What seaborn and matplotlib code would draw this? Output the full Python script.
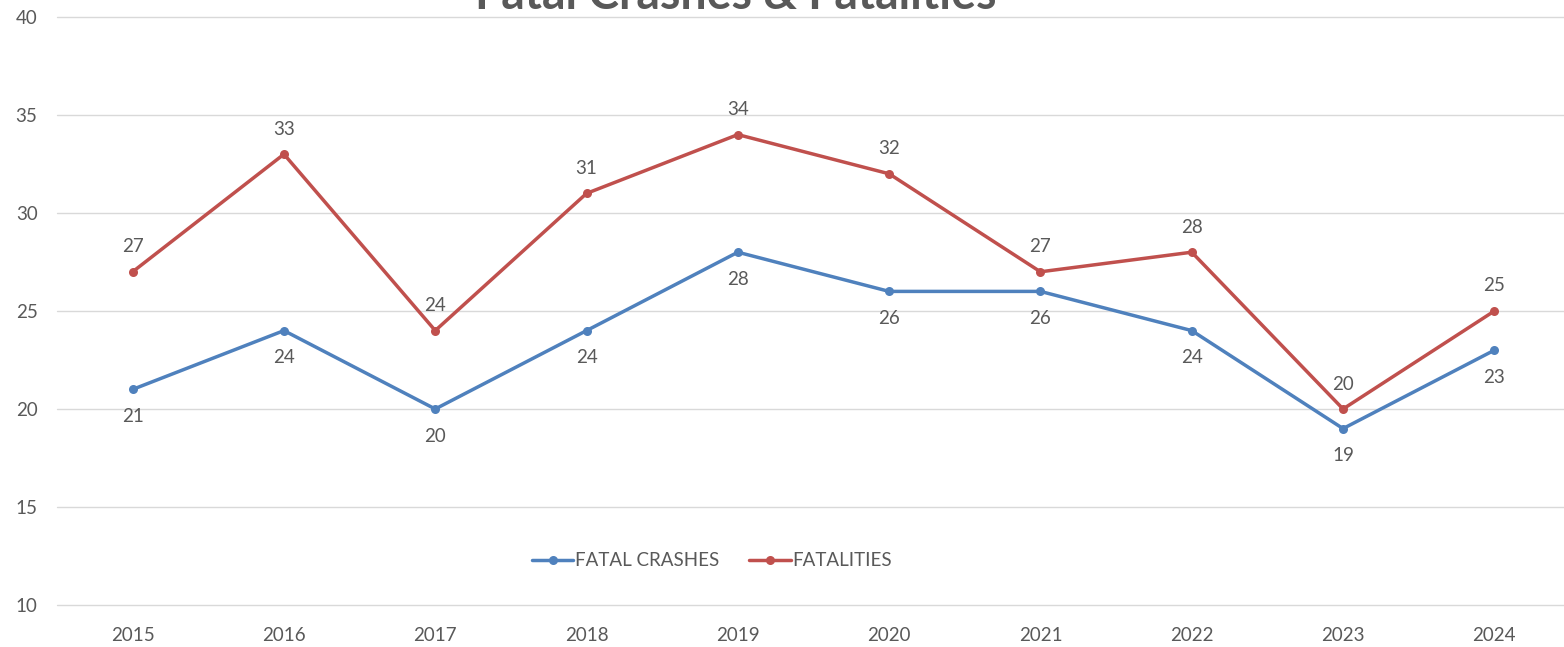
import pandas as pd
import seaborn as sns
import matplotlib.pyplot as plt

# Values
years = [2015, 2016, 2017, 2018, 2019, 2020, 2021, 2022, 2023, 2024]
fatal_crashes = [21, 24, 20, 24, 28, 26, 26, 24, 19, 23]
fatalities = [27, 33, 24, 31, 34, 32, 27, 28, 20, 25]
series_names = ['FATAL CRASHES', 'FATALITIES']
y_ticks = [10, 15, 20, 25, 30, 35, 40]

df = pd.DataFrame({
    'year': years * 2,
    'value': fatal_crashes + fatalities,
    'series': [series_names[0]] * len(years) + [series_names[1]] * len(years),
})

sns.set_style('white')
plt.rcParams['font.family'] = ['Lato', 'DejaVu Sans']
text_color = '#595959'
palette = {series_names[0]: '#4F81BD', series_names[1]: '#C0504D'}

fig = plt.figure(figsize=(15.64, 6.47), dpi=100)
ax = fig.add_axes([57 / 1564, 42 / 647, 1513 / 1564, 588 / 647])

sns.lineplot(data=df, x='year', y='value', hue='series', palette=palette,
             marker='o', markersize=6.5, markeredgewidth=0, linewidth=2.5,
             ax=ax, legend=True)

# Data labels: crashes below the points, fatalities above
for name, vals, offset in [(series_names[0], fatal_crashes, -19.5),
                           (series_names[1], fatalities, 18)]:
    for x, y in zip(years, vals):
        ax.annotate(str(y), (x, y), xytext=(0, offset), textcoords='offset points',
                    ha='center', va='center', fontsize=13.5, color=text_color)

ax.set_xlim(years[0] - 0.5, years[-1] + 0.5)
ax.set_ylim(10, 40)
ax.set_yticks(y_ticks)
ax.set_xticks(years)
ax.set_xticklabels([str(y) for y in years])
ax.grid(axis='y', color='#D9D9D9', linewidth=1)
ax.set_axisbelow(True)
for gl in ax.get_ygridlines():
    gl.set_clip_on(False)
for s in ax.spines.values():
    s.set_visible(False)
ax.tick_params(axis='both', length=0, labelsize=13.5, labelcolor=text_color)
ax.tick_params(axis='y', pad=14)
ax.tick_params(axis='x', pad=16)
ax.set_xlabel('')
ax.set_ylabel('')

handles, labels = ax.get_legend_handles_labels()
ax.get_legend().remove()
fig.legend(handles, labels, loc='center', bbox_to_anchor=(712 / 1564, 1 - 561 / 647),
           ncol=2, frameon=False, fontsize=13.5, labelcolor=text_color,
           handlelength=2.2, handletextpad=0.1, columnspacing=1.6)

fig.text(736 / 1564, 1 - 9 / 647, 'Fatal Crashes & Fatalities', ha='center', va='baseline',
         fontsize=33.5, fontweight='bold', color=text_color)

fig.savefig('out.png', dpi=100)
